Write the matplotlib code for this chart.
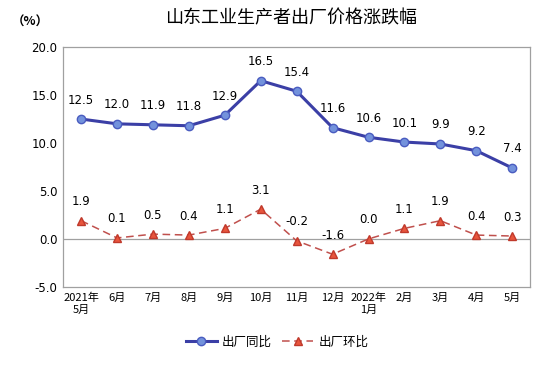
import matplotlib
matplotlib.use("Agg")
import matplotlib.pyplot as plt

plt.rcParams['font.family'] = ['Noto Sans CJK SC', 'DejaVu Sans']

months = ['2021年\n5月', '6月', '7月', '8月', '9月', '10月', '11月', '12月',
          '2022年\n1月', '2月', '3月', '4月', '5月']
yoy = [12.5, 12.0, 11.9, 11.8, 12.9, 16.5, 15.4, 11.6, 10.6, 10.1, 9.9, 9.2, 7.4]
mom = [1.9, 0.1, 0.5, 0.4, 1.1, 3.1, -0.2, -1.6, 0.0, 1.1, 1.9, 0.4, 0.3]

fig = plt.figure(figsize=(5.54, 3.74), dpi=100)
ax = fig.add_axes([0.114, 0.233, 0.843, 0.641])

x = list(range(len(months)))
ax.plot(x, yoy, color='#3b3fa6', lw=2.2, marker='o', ms=6,
        markerfacecolor='#7392dc', markeredgecolor='#4a5cc0', label='出厂同比')
ax.plot(x, mom, color='#c0504d', lw=1.1, ls=(0, (5, 3)), marker='^', ms=6,
        markerfacecolor='#e8553d', markeredgecolor='#c0392b', label='出厂环比')

# data labels above each point
for i, v in enumerate(yoy):
    ax.annotate(f'{v:.1f}', (i, v), xytext=(0, 9), textcoords='offset points',
                ha='center', va='bottom', fontsize=8.5, family='DejaVu Sans')
for i, v in enumerate(mom):
    ax.annotate(f'{v:.1f}', (i, v), xytext=(0, 9), textcoords='offset points',
                ha='center', va='bottom', fontsize=8.5, family='DejaVu Sans')

ax.axhline(0, color='#a0a0a0', lw=0.9, zorder=0)
ax.set_xlim(-0.5, len(months) - 0.5)
ax.set_ylim(-5, 20)
ax.set_yticks([-5, 0, 5, 10, 15, 20])
ax.set_yticklabels([f'{t:.1f}' for t in [-5, 0, 5, 10, 15, 20]], fontsize=8.5,
                   family='DejaVu Sans')
ax.set_xticks(x)
ax.set_xticklabels(months, fontsize=8, linespacing=1.2)
ax.tick_params(axis='both', length=0, pad=4)
for s in ax.spines.values():
    s.set_color('#a0a0a0')
    s.set_linewidth(0.9)

fig.text(0.525, 0.95, '山东工业生产者出厂价格涨跌幅', ha='center', va='center', fontsize=13)
fig.text(0.055, 0.94, '（%）', ha='center', va='center', fontsize=9, fontweight='bold')

fig.legend(loc='center', bbox_to_anchor=(0.5, 0.085), ncol=2, frameon=False,
           fontsize=9, handlelength=2.5, columnspacing=0.8, handletextpad=0.4)

fig.savefig('out.png', dpi=100)
